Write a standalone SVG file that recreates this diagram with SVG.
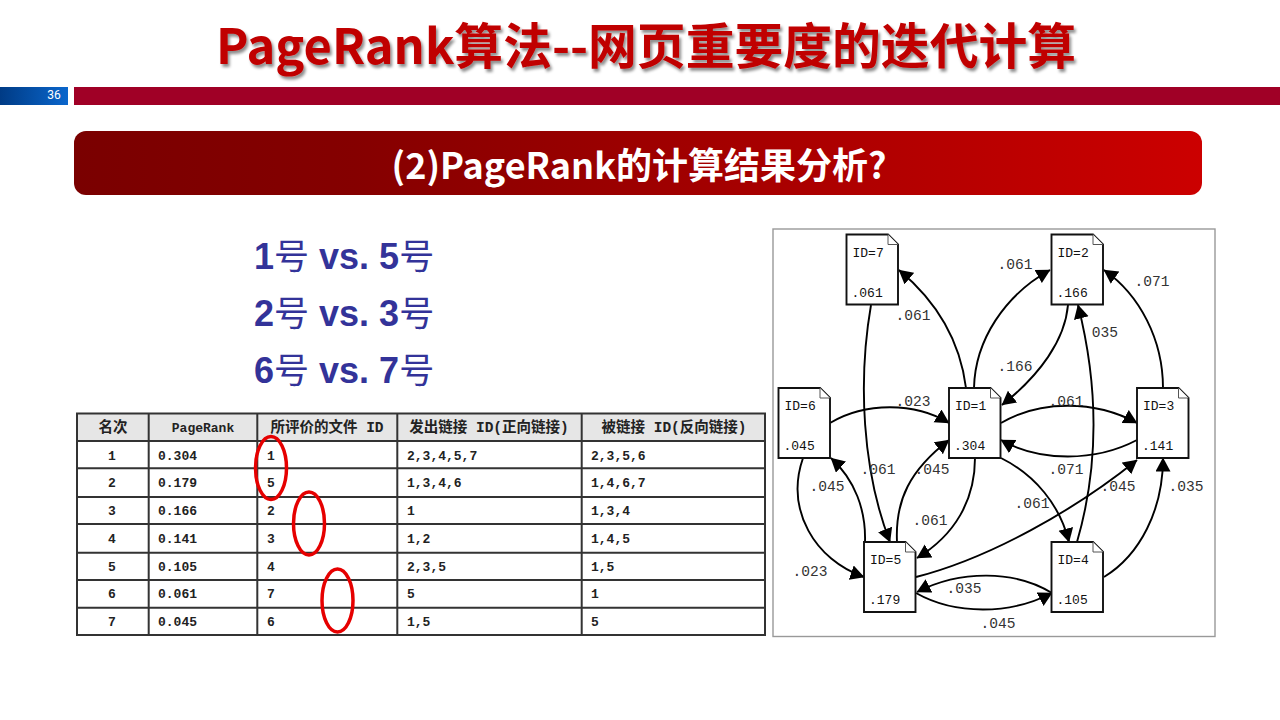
<svg xmlns="http://www.w3.org/2000/svg" width="1280" height="720" viewBox="0 0 1280 720">
<style>
.cj{font-family:"Noto Sans CJK SC","Noto Sans",sans-serif;font-weight:700}
.q{font-family:"Liberation Sans",sans-serif;font-weight:700;font-size:36px;fill:#333399}
.q .h{font-family:"Noto Sans CJK SC",sans-serif;font-weight:400;font-size:35px}
.tc{font-family:"Liberation Mono","Noto Sans CJK SC",monospace;font-weight:700;font-size:13px;fill:#222}
.th{font-family:"Liberation Mono","Noto Sans CJK SC",monospace;font-weight:700;font-size:14.5px;fill:#222;text-anchor:middle}
.m{text-anchor:middle}
.tl{stroke:#333;stroke-width:2;fill:none}
.oval{fill:none;stroke:#e60000;stroke-width:3.5}
.e{fill:none;stroke:#000;stroke-width:1.9;marker-end:url(#ah)}
.lb{font-family:"Liberation Mono",monospace;font-size:14.6px;fill:#333;text-anchor:middle}
.nt{font-family:"Liberation Mono",monospace;font-size:13px;fill:#111}
.doc{fill:#fff;stroke:#111;stroke-width:1.9}
.fold{fill:#fff;stroke:#555;stroke-width:1}
</style>
<defs>
<linearGradient id="g1"><stop offset="0" stop-color="#7a0000"/><stop offset="0.25" stop-color="#850000"/><stop offset="1" stop-color="#cc0000"/></linearGradient>
<linearGradient id="g2"><stop offset="0" stop-color="#003b85"/><stop offset="1" stop-color="#0a66cc"/></linearGradient>
<filter id="sh" x="-5%" y="-20%" width="110%" height="140%"><feDropShadow dx="2" dy="3" stdDeviation="1.5" flood-color="#000" flood-opacity="0.45"/></filter>
<marker id="ah" markerUnits="userSpaceOnUse" markerWidth="16" markerHeight="16" refX="13.5" refY="7.5" orient="auto"><path d="M0,0L14,7.5L0,15Z" fill="#000"/></marker>
<path id="d" class="doc" d="M0,0H41.5L51.5,10V70H0Z"/>
</defs>
<rect width="1280" height="720" fill="#fff"/>
<g id="header">
<text class="cj m" x="646" y="64" font-size="48.8" fill="#c00000" filter="url(#sh)">PageRank算法--网页重要度的迭代计算</text>
<rect x="0" y="87" width="68" height="18" fill="url(#g2)"/>
<text x="54" y="99" font-family="Roboto,sans-serif" font-size="12" fill="#fff" text-anchor="middle">36</text>
<rect x="74" y="87" width="1206" height="18" fill="#a00026"/>
<rect x="74" y="131" width="1128" height="64" rx="12" fill="url(#g1)"/>
<text class="cj m" x="639" y="178.5" font-size="36" fill="#fff">(2)PageRank的计算结果分析?</text>
</g>
<g id="questions">
<text class="q" x="254" y="269">1<tspan class="h">号</tspan> vs. 5<tspan class="h">号</tspan></text>
<text class="q" x="254" y="326">2<tspan class="h">号</tspan> vs. 3<tspan class="h">号</tspan></text>
<text class="q" x="254" y="383">6<tspan class="h">号</tspan> vs. 7<tspan class="h">号</tspan></text>
</g>
<g id="table">
<rect x="77" y="413.5" width="688" height="27.5" fill="#e6e6e6"/>
<path class="tl" d="M77,413.5H765V635H77ZM148.7,413.5V635M257.3,413.5V635M397.3,413.5V635M581.7,413.5V635M77,441H765M77,468.3H765M77,497H765M77,524H765M77,552.7H765M77,580H765M77,607.7H765"/>
<text class="th" x="113" y="432">名次</text><text class="th" x="203" y="432" style="font-size:13px">PageRank</text><text class="th" x="327" y="432">所评价的文件 ID</text><text class="th" x="489" y="432">发出链接 ID(正向链接)</text><text class="th" x="674" y="432">被链接 ID(反向链接)</text>
<g class="tc">
<text x="108" y="460">1</text><text x="158" y="460">0.304</text><text x="267" y="460">1</text><text x="407" y="460">2,3,4,5,7</text><text x="591" y="460">2,3,5,6</text>
<text x="108" y="487">2</text><text x="158" y="487">0.179</text><text x="267" y="487">5</text><text x="407" y="487">1,3,4,6</text><text x="591" y="487">1,4,6,7</text>
<text x="108" y="515">3</text><text x="158" y="515">0.166</text><text x="267" y="515">2</text><text x="407" y="515">1</text><text x="591" y="515">1,3,4</text>
<text x="108" y="543">4</text><text x="158" y="543">0.141</text><text x="267" y="543">3</text><text x="407" y="543">1,2</text><text x="591" y="543">1,4,5</text>
<text x="108" y="571">5</text><text x="158" y="571">0.105</text><text x="267" y="571">4</text><text x="407" y="571">2,3,5</text><text x="591" y="571">1,5</text>
<text x="108" y="598">6</text><text x="158" y="598">0.061</text><text x="267" y="598">7</text><text x="407" y="598">5</text><text x="591" y="598">1</text>
<text x="108" y="626">7</text><text x="158" y="626">0.045</text><text x="267" y="626">6</text><text x="407" y="626">1,5</text><text x="591" y="626">5</text>
</g>
</g>
<g id="marks">
<ellipse class="oval" cx="271" cy="468" rx="15.5" ry="31.5"/>
<ellipse class="oval" cx="309" cy="523.5" rx="15.5" ry="31.5"/>
<ellipse class="oval" cx="337.5" cy="600.5" rx="15.5" ry="31.5"/>
</g>
<rect id="frame" x="773" y="229" width="442" height="407.5" fill="#fff" stroke="#999" stroke-width="1.4"/>
<g id="connectors">
<path class="e" d="M871,305C858,380 862,470 890,542"/>
<path class="e" d="M966,388C960,340 935,300 899,270"/>
<path class="e" d="M974,388C975,340 1005,295 1050,270"/>
<path class="e" d="M1068,305C1065,340 1040,375 1002,405"/>
<path class="e" d="M1163,388C1163,340 1140,295 1104,270"/>
<path class="e" d="M1077,542C1095,480 1102,400 1078,305"/>
<path class="e" d="M830,423C865,402 915,402 949,423"/>
<path class="e" d="M1001,423C1040,400 1095,400 1137,423"/>
<path class="e" d="M1137,440C1095,462 1040,462 1001,440"/>
<path class="e" d="M803,458C785,510 815,560 864,577"/>
<path class="e" d="M865,542C866,510 855,480 831,458"/>
<path class="e" d="M897,542C895,500 910,470 949,440"/>
<path class="e" d="M975,458C975,500 955,535 917,558"/>
<path class="e" d="M1001,458C1035,475 1060,505 1069,542"/>
<path class="e" d="M916,577C990,558 1075,510 1137,460"/>
<path class="e" d="M1104,577C1140,555 1163,510 1163,458"/>
<path class="e" d="M1052,593C1015,570 960,570 917,592"/>
<path class="e" d="M916,593C955,615 1010,615 1052,593"/>
</g>
<g id="edge-labels">
<text class="lb" x="1015" y="269">.061</text><text class="lb" x="1152" y="286">.071</text><text class="lb" x="913" y="320">.061</text><text class="lb" x="1015" y="371">.166</text><text class="lb" x="1105" y="337">035</text><text class="lb" x="913" y="406">.023</text><text class="lb" x="1066" y="406">.061</text><text class="lb" x="878" y="474">.061</text><text class="lb" x="932" y="474">.045</text><text class="lb" x="1066" y="474">.071</text><text class="lb" x="827" y="491">.045</text><text class="lb" x="1118" y="491">.045</text><text class="lb" x="1186" y="491">.035</text><text class="lb" x="1032" y="508">.061</text><text class="lb" x="930" y="525">.061</text><text class="lb" x="810" y="576">.023</text><text class="lb" x="964" y="593">.035</text><text class="lb" x="998" y="628">.045</text>
</g>
<g id="node-7" transform="translate(846.5,234.5)"><use href="#d"/><path class="fold" d="M41.5,0V10H51.5"/><text class="nt" x="6" y="22">ID=7</text><text class="nt" x="5" y="62">.061</text></g>
<g id="node-2" transform="translate(1051.5,234.5)"><use href="#d"/><path class="fold" d="M41.5,0V10H51.5"/><text class="nt" x="6" y="22">ID=2</text><text class="nt" x="5" y="62">.166</text></g>
<g id="node-6" transform="translate(778.5,388)"><use href="#d"/><path class="fold" d="M41.5,0V10H51.5"/><text class="nt" x="6" y="22">ID=6</text><text class="nt" x="5" y="62">.045</text></g>
<g id="node-1" transform="translate(949,388)"><use href="#d"/><path class="fold" d="M41.5,0V10H51.5"/><text class="nt" x="6" y="22">ID=1</text><text class="nt" x="5" y="62">.304</text></g>
<g id="node-3" transform="translate(1137,388)"><use href="#d"/><path class="fold" d="M41.5,0V10H51.5"/><text class="nt" x="6" y="22">ID=3</text><text class="nt" x="5" y="62">.141</text></g>
<g id="node-5" transform="translate(864,542)"><use href="#d"/><path class="fold" d="M41.5,0V10H51.5"/><text class="nt" x="6" y="22">ID=5</text><text class="nt" x="5" y="62">.179</text></g>
<g id="node-4" transform="translate(1051.5,542)"><use href="#d"/><path class="fold" d="M41.5,0V10H51.5"/><text class="nt" x="6" y="22">ID=4</text><text class="nt" x="5" y="62">.105</text></g>
</svg>
